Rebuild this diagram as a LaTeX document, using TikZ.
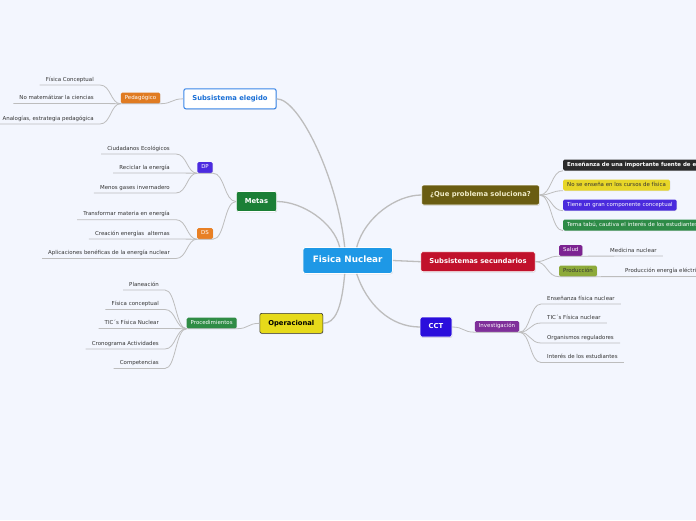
\documentclass[tikz,border=0pt]{standalone}
\usepackage{fontspec}
\setmainfont{DejaVu Sans}
\usepackage{tikz}
\usetikzlibrary{shadows}

\definecolor{paper}{HTML}{F3F6FE}
\definecolor{linegray}{HTML}{BDBDBD}
\definecolor{leafgray}{HTML}{333333}
\definecolor{fnblue}{HTML}{1E98E6}
\definecolor{subblue}{HTML}{3A86E8}
\definecolor{subtext}{HTML}{1A6FD6}
\definecolor{pedorange}{HTML}{E07B22}
\definecolor{metasgreen}{HTML}{1B7F36}
\definecolor{dpviolet}{HTML}{4B2BE0}
\definecolor{dsorange}{HTML}{E88025}
\definecolor{operyellow}{HTML}{E6DA1A}
\definecolor{procgreen}{HTML}{2F8C45}
\definecolor{queolive}{HTML}{6A5D12}
\definecolor{quetext}{HTML}{F0ECC8}
\definecolor{boxblack}{HTML}{2B2B2B}
\definecolor{boxyellow}{HTML}{E7D628}
\definecolor{boxviolet}{HTML}{4A2BDD}
\definecolor{boxgreen}{HTML}{2E8B47}
\definecolor{subsecred}{HTML}{C1112B}
\definecolor{saludpurple}{HTML}{7C2391}
\definecolor{prodolive}{HTML}{8DAA3A}
\definecolor{cctblue}{HTML}{2A0EDC}
\definecolor{invpurple}{HTML}{7F2F9A}

\begin{document}
\begin{tikzpicture}[x=1pt,y=-1pt,
  hub/.style={rounded corners=2.5pt, fill=fnblue, draw=white, line width=0.8pt,
    text=white, font=\fontsize{8.8}{10}\selectfont\bfseries,
    inner xsep=10pt, inner ysep=8.8pt, text height=6.5pt, text depth=1.8pt,
    drop shadow={opacity=0.2,shadow xshift=0.6pt,shadow yshift=-0.8pt}},
  topic/.style={rounded corners=2pt, draw=white, line width=0.6pt,
    font=\fontsize{6.8}{8}\selectfont\bfseries,
    inner xsep=8.5pt, inner ysep=6.8pt, text height=5pt, text depth=1.4pt,
    drop shadow={opacity=0.25,shadow xshift=0.6pt,shadow yshift=-0.8pt}},
  tag/.style={rounded corners=1.5pt, text=white, font=\fontsize{5.45}{6}\selectfont,
    inner xsep=4pt, inner ysep=3pt, text height=3.9pt, text depth=1.1pt,
    drop shadow={opacity=0.2,shadow xshift=0.5pt,shadow yshift=-0.6pt}},
  leaf/.style={text=leafgray, font=\fontsize{5.45}{6}\selectfont,
    inner xsep=6pt, inner ysep=2.5pt, text height=3.9pt, text depth=1.1pt},
  trunk/.style={draw=linegray, line width=1.3pt},
  twig/.style={draw=linegray, line width=0.8pt}]

\useasboundingbox (0,0) rectangle (696,520);
\clip (0,0) rectangle (696,520);
\fill[paper] (0,0) rectangle (696,520);

% centre
\node[hub] (fn) at (347.7,260.5) {Fisica Nuclear};

% left side
\node[topic, fill=white, draw=subblue, line width=1pt, text=subtext] (sub) at (230,98.8) {Subsistema elegido};
\node[tag, fill=pedorange] (ped) at (140.5,98) {Pedagógico};
\node[leaf, anchor=south east] (ped1) at (100,85) {Física Conceptual};
\node[leaf, anchor=south east] (ped2) at (100,103.5) {No matemátizar la ciencias};
\node[leaf, anchor=south east] (ped3) at (100,124) {Analogías, estrategia pedagógica};

\node[topic, fill=metasgreen, text=white] (metas) at (256.5,201.5) {Metas};
\node[tag, fill=dpviolet] (dp) at (205,167.5) {DP};
\node[leaf, anchor=south east] (dp1) at (176,154) {Ciudadanos Ecológicos};
\node[leaf, anchor=south east] (dp2) at (176,173) {Reciclar la energía};
\node[leaf, anchor=south east] (dp3) at (176,193) {Menos gases invernadero};
\node[tag, fill=dsorange] (ds) at (205,233.5) {DS};
\node[leaf, anchor=south east] (ds1) at (176,219.7) {Transformar materia en energía};
\node[leaf, anchor=south east] (ds2) at (176,239) {Creación energías\ \ alternas};
\node[leaf, anchor=south east] (ds3) at (176,258.5) {Aplicaciones benéficas de la energía nuclear};

\node[topic, fill=operyellow, draw=black!80, text=black] (oper) at (291.3,323.3) {Operacional};
\node[tag, fill=procgreen] (proc) at (211.7,323) {Procedimientos};
\node[leaf, anchor=south east] (proc1) at (165,290) {Planeación};
\node[leaf, anchor=south east] (proc2) at (165,309.5) {Física conceptual};
\node[leaf, anchor=south east] (proc3) at (165,328.5) {TIC´s Física Nuclear};
\node[leaf, anchor=south east] (proc4) at (165,349) {Cronograma Actividades};
\node[leaf, anchor=south east] (proc5) at (165,368.5) {Competencias};

% right side
\node[topic, fill=queolive, text=quetext] (que) at (480.5,195) {¿Que problema soluciona?};
\node[tag, anchor=south west, fill=boxblack, font=\fontsize{5.45}{6}\selectfont\bfseries] (que1) at (563,170.7) {Enseñanza de una importante fuente de energía};
\node[tag, anchor=south west, fill=boxyellow, text=leafgray] (que2) at (563,190.7) {No se enseña en los cursos de física};
\node[tag, anchor=south west, fill=boxviolet] (que3) at (563,210.7) {Tiene un gran componente conceptual};
\node[tag, anchor=south west, fill=boxgreen] (que4) at (563,230.7) {Tema tabú, cautiva el interés de los estudiantes};

\node[topic, fill=subsecred, text=white] (subsec) at (478,261.7) {Subsistemas secundarios};
\node[tag, fill=saludpurple] (salud) at (570.8,250.5) {Salud};
\node[leaf, anchor=south west] (med) at (604,256) {Medicina nuclear};
\node[tag, fill=prodolive, text=leafgray] (prod) at (578,271) {Producción};
\node[leaf, anchor=south west] (elec) at (619,276.5) {Producción energía eléctrica};

\node[topic, fill=cctblue, text=white] (cct) at (436,327) {CCT};
\node[tag, fill=invpurple] (inv) at (497,326.5) {Investigación};
\node[leaf, anchor=south west] (inv1) at (541,304) {Enseñanza física nuclear};
\node[leaf, anchor=south west] (inv2) at (541,323) {TIC´s Física nuclear};
\node[leaf, anchor=south west] (inv3) at (541,343) {Organismos reguladores};
\node[leaf, anchor=south west] (inv4) at (541,362.5) {Interés de los estudiantes};

% connectors from the centre
\draw[trunk] ([xshift=-3pt]fn.north) .. controls +(-7,-68) and +(23,0) .. (sub.east);
\draw[trunk] ([xshift=-8pt]fn.north) .. controls +(-6,-25) and +(25,0) .. (metas.east);
\draw[trunk] ([xshift=-3pt]fn.south) .. controls +(-3,35) and +(12,0) .. (oper.east);
\draw[trunk] ([xshift=9pt]fn.north) .. controls +(8,-30) and +(-25,0) .. (que.west);
\draw[trunk] (fn.east) -- (subsec.west);
\draw[trunk] ([xshift=9pt]fn.south) .. controls +(10,30) and +(-30,0) .. (cct.west);

% left branches
\draw[twig] (sub.west) .. controls +(-12,0) and +(12,0) .. (ped.south east) -- (ped.south west);
\draw[twig] (ped.south west) .. controls +(-10,0) and +(11,0) .. (ped1.south east) -- (ped1.south west);
\draw[twig] (ped.south west) -- (ped2.south east) -- (ped2.south west);
\draw[twig] (ped.south west) .. controls +(-10,0) and +(11,0) .. (ped3.south east) -- (ped3.south west);

\draw[twig] (metas.west) .. controls +(-12,0) and +(12,0) .. (dp.south east) -- (dp.south west);
\draw[twig] (dp.south west) .. controls +(-10,0) and +(11,0) .. (dp1.south east) -- (dp1.south west);
\draw[twig] (dp.south west) -- (dp2.south east) -- (dp2.south west);
\draw[twig] (dp.south west) .. controls +(-10,0) and +(11,0) .. (dp3.south east) -- (dp3.south west);
\draw[twig] (metas.west) .. controls +(-12,0) and +(12,0) .. (ds.south east) -- (ds.south west);
\draw[twig] (ds.south west) .. controls +(-10,0) and +(11,0) .. (ds1.south east) -- (ds1.south west);
\draw[twig] (ds.south west) -- (ds2.south east) -- (ds2.south west);
\draw[twig] (ds.south west) .. controls +(-10,0) and +(11,0) .. (ds3.south east) -- (ds3.south west);

\draw[twig] (oper.west) .. controls +(-12,0) and +(12,0) .. (proc.south east) -- (proc.south west);
\draw[twig] (proc.south west) .. controls +(-11,0) and +(11,0) .. (proc1.south east) -- (proc1.south west);
\draw[twig] (proc.south west) .. controls +(-11,0) and +(11,0) .. (proc2.south east) -- (proc2.south west);
\draw[twig] (proc.south west) -- (proc3.south east) -- (proc3.south west);
\draw[twig] (proc.south west) .. controls +(-11,0) and +(11,0) .. (proc4.south east) -- (proc4.south west);
\draw[twig] (proc.south west) .. controls +(-11,0) and +(11,0) .. (proc5.south east) -- (proc5.south west);

% right branches
\draw[twig] (que.east) .. controls +(12,0) and +(-12,0) .. (que1.south west);
\draw[twig] (que.east) .. controls +(12,0) and +(-12,0) .. (que2.south west);
\draw[twig] (que.east) .. controls +(12,0) and +(-12,0) .. (que3.south west);
\draw[twig] (que.east) .. controls +(12,0) and +(-12,0) .. (que4.south west);

\draw[twig] (subsec.east) .. controls +(12,0) and +(-12,0) .. (salud.south west) -- (med.south east);
\draw[twig] (subsec.east) .. controls +(12,0) and +(-12,0) .. (prod.south west) -- (elec.south east);

\draw[twig] (cct.east) .. controls +(12,0) and +(-12,0) .. (inv.south west) -- (inv.south east);
\draw[twig] (inv.south east) .. controls +(11,0) and +(-11,0) .. (inv1.south west) -- (inv1.south east);
\draw[twig] (inv.south east) .. controls +(11,0) and +(-11,0) .. (inv2.south west) -- (inv2.south east);
\draw[twig] (inv.south east) .. controls +(11,0) and +(-11,0) .. (inv3.south west) -- (inv3.south east);
\draw[twig] (inv.south east) .. controls +(11,0) and +(-11,0) .. (inv4.south west) -- (inv4.south east);
\end{tikzpicture}
\end{document}
